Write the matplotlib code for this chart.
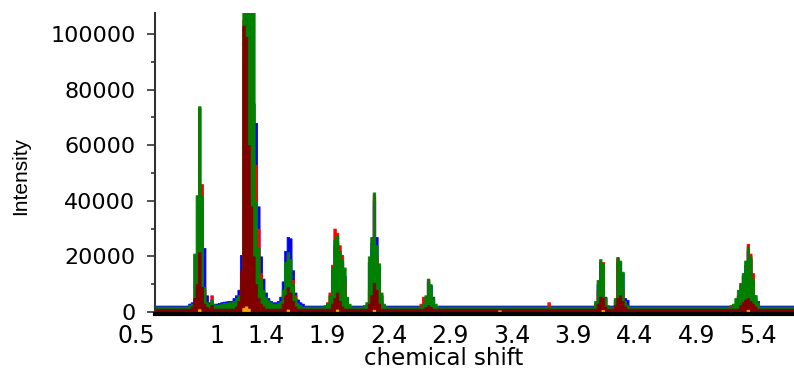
#!/usr/bin/env python3

import numpy as np
import matplotlib
matplotlib.use("Agg")
import matplotlib.pyplot as plt
from matplotlib.ticker import MultipleLocator

# bucketed 1H NMR spectra, 0.02 ppm buckets
ppm = np.round(np.arange(0.5, 5.72, 0.02), 2)

# baseline level of each spectrum, then buckets that rise above it
blue_base = 2300
blue_peaks = {
    0.78: 3000, 0.80: 3500, 0.82: 4500, 0.84: 6000, 0.86: 8000, 0.88: 12000,
    0.90: 23000, 0.92: 6000, 0.94: 3500, 0.96: 3500, 0.98: 3000, 1.00: 3000,
    1.02: 3200, 1.04: 3500, 1.06: 3700, 1.08: 3800, 1.10: 4000, 1.12: 4000,
    1.14: 5000, 1.16: 6000, 1.18: 8000, 1.20: 20500, 1.22: 90000, 1.24: 95000,
    1.26: 95000, 1.28: 85000, 1.30: 75000, 1.32: 68000, 1.34: 38000, 1.36: 20000,
    1.38: 12000, 1.40: 7000, 1.42: 5000, 1.44: 4000, 1.46: 3500, 1.48: 3500,
    1.50: 4000, 1.52: 5500, 1.54: 11000, 1.56: 22000, 1.58: 27000, 1.60: 26500,
    1.62: 15000, 1.64: 7000, 1.66: 4500, 1.68: 3500, 1.70: 3000,
    1.94: 14000, 1.96: 24000, 1.98: 25000, 2.00: 21000, 2.02: 18000, 2.04: 13000,
    2.06: 5000, 2.24: 18000, 2.26: 25000, 2.28: 40000, 2.30: 27000, 2.32: 16000,
    2.34: 6000, 2.70: 5000, 2.72: 11000, 2.74: 9500, 2.76: 5500,
    4.10: 10000, 4.12: 18000, 4.14: 17000, 4.16: 5500, 4.24: 4500, 4.26: 18000,
    4.28: 18000, 4.30: 14000, 4.32: 5000, 4.34: 4300,
    5.24: 6000, 5.26: 8000, 5.28: 13000, 5.30: 17000, 5.32: 22000, 5.34: 19000,
    5.36: 11000, 5.38: 6000, 5.40: 4000,
}

red_base = 1500
red_peaks = {
    0.84: 8000, 0.86: 73500, 0.88: 46000, 0.90: 8000, 0.92: 3000, 0.96: 6000,
    1.18: 6000, 1.20: 10000, 1.22: 105000, 1.24: 100000, 1.26: 80000,
    1.28: 60000, 1.30: 55000, 1.32: 53000, 1.34: 30000, 1.36: 14000,
    1.38: 7000, 1.40: 4000, 1.42: 3000,
    1.54: 6000, 1.56: 9000, 1.58: 20500, 1.60: 12000, 1.62: 11500, 1.64: 6000,
    1.66: 3000,
    1.90: 3500, 1.92: 7000, 1.94: 17000, 1.96: 30000, 1.98: 28500, 2.00: 24000,
    2.02: 20500, 2.04: 12000, 2.06: 4000,
    2.24: 8000, 2.26: 15000, 2.28: 42000, 2.30: 20000, 2.32: 10000, 2.34: 4000,
    2.66: 3000, 2.68: 5500, 2.70: 5000, 2.72: 11800, 2.74: 6000,
    3.70: 3500,
    4.08: 3000, 4.10: 8000, 4.12: 12000, 4.14: 18000, 4.16: 5000, 4.24: 4000,
    4.26: 19800, 4.28: 12000, 4.30: 8000,
    5.18: 2500, 5.24: 6000, 5.26: 10500, 5.28: 9000, 5.30: 14000, 5.32: 24500,
    5.34: 21000, 5.36: 14000, 5.38: 5000,
}

green_base = 1950
green_peaks = {
    0.78: 2500, 0.80: 3000, 0.82: 21000, 0.84: 42000, 0.86: 74000, 0.88: 42000,
    0.90: 9000, 0.92: 3500, 0.94: 3000, 0.96: 4500, 0.98: 2800, 1.00: 2500,
    1.02: 2700, 1.04: 3000, 1.06: 3200, 1.08: 3300, 1.10: 3500, 1.12: 3500,
    1.14: 4000, 1.16: 5000, 1.18: 6000, 1.20: 10000, 1.22: 112000,
    1.24: 112000, 1.26: 112000, 1.28: 112000, 1.30: 112000, 1.32: 40000,
    1.34: 23000, 1.36: 12000, 1.38: 8000, 1.40: 5500, 1.42: 4200, 1.44: 3500,
    1.46: 3000, 1.48: 3000, 1.50: 3300, 1.52: 4000, 1.54: 8000, 1.56: 18000,
    1.58: 21500, 1.60: 19000, 1.62: 10000, 1.64: 5000, 1.66: 3200, 1.68: 2600,
    1.88: 2500, 1.90: 3200, 1.92: 6000, 1.94: 16000, 1.96: 26000, 1.98: 27500,
    2.00: 22000, 2.02: 19000, 2.04: 16000, 2.06: 5500, 2.08: 3000,
    2.20: 2500, 2.22: 3500, 2.24: 20000, 2.26: 27000, 2.28: 43000, 2.30: 24000,
    2.32: 17500, 2.34: 7000, 2.36: 3000,
    2.68: 3000, 2.70: 6000, 2.72: 12000, 2.74: 10000, 2.76: 5000, 2.78: 3000,
    4.08: 4000, 4.10: 11500, 4.12: 19000, 4.14: 17600, 4.16: 5000, 4.18: 2500,
    4.24: 5000, 4.26: 19400, 4.28: 18500, 4.30: 14500, 4.32: 4000, 4.34: 2500,
    5.20: 3000, 5.22: 5000, 5.24: 8000, 5.26: 10000, 5.28: 14000, 5.30: 18500,
    5.32: 23500, 5.34: 20000, 5.36: 12000, 5.38: 6000, 5.40: 3500,
}

darkred_base = 1200
darkred_peaks = {
    0.80: 2000, 0.82: 5000, 0.84: 10000, 0.86: 21500, 0.88: 9000, 0.90: 3000,
    0.92: 1800, 0.96: 2500,
    1.16: 2000, 1.18: 4000, 1.20: 15000, 1.22: 103000, 1.24: 99000,
    1.26: 60000, 1.28: 38000, 1.30: 20000, 1.32: 10000, 1.34: 5000, 1.36: 3000,
    1.38: 2000,
    1.54: 3000, 1.56: 6000, 1.58: 9000, 1.60: 7000, 1.62: 4000, 1.64: 2000,
    1.94: 3000, 1.96: 5000, 1.98: 7000, 2.00: 4000, 2.02: 2000,
    2.24: 3000, 2.26: 6000, 2.28: 10500, 2.30: 8000, 2.32: 3000,
    2.70: 1800, 2.72: 2500, 2.74: 1800,
    4.10: 3000, 4.12: 5500, 4.14: 5000, 4.16: 2000, 4.24: 2500, 4.26: 5000,
    4.28: 6000, 4.30: 4000, 4.32: 2000,
    5.26: 2500, 5.28: 3500, 5.30: 4500, 5.32: 5000, 5.34: 4000, 5.36: 3000,
    5.38: 2000,
}

orange_base = 0
orange_peaks = {
    0.86: 1000, 1.22: 1500, 1.24: 2000, 1.26: 1200, 1.58: 900, 1.98: 900,
    2.28: 800, 3.30: 600, 4.14: 700, 5.32: 800,
}

xtick_values = [0.5, 1.0, 1.4, 1.9, 2.4, 2.9, 3.4, 3.9, 4.4, 4.9, 5.4]
xtick_labels = ["0.5", "1", "1.4", "1.9", "2.4", "2.9", "3.4", "3.9", "4.4", "4.9", "5.4"]


def spectrum(base, peaks):
    y = np.full(len(ppm), float(base))
    for p, v in peaks.items():
        y[np.argmin(np.abs(ppm - p))] = v
    return y


plt.rcParams['font.family'] = 'DejaVu Sans'

fig = plt.figure(figsize=(7.94, 3.74), dpi=100)
ax = fig.add_axes([155/794, 60/374, 639/794, 301/374])

ymin = -720
layers = [
    (blue_base, blue_peaks, '#0000ff'),
    (red_base, red_peaks, '#ff0000'),
    (green_base, green_peaks, '#008000'),
    (darkred_base, darkred_peaks, '#800000'),
    (orange_base, orange_peaks, '#ffa500'),
]
for base, peaks, col in layers:
    ax.fill_between(ppm, spectrum(base, peaks), ymin, step='mid',
                    color=col, linewidth=0.6, edgecolor=col)

ax.set_xlim(0.5, 5.695)
ax.set_ylim(ymin, 107550)

ax.set_xticks(xtick_values)
ax.set_xticklabels(xtick_labels)
ax.get_xticklabels()[0].set_horizontalalignment('right')
ax.yaxis.set_minor_locator(MultipleLocator(10000))
ax.set_yticks(range(0, 100001, 20000))
ax.set_yticklabels([str(v) for v in range(0, 100001, 20000)])

ax.tick_params(axis='x', length=0, pad=7, labelsize=17)
ax.tick_params(axis='y', which='major', direction='out', length=6, width=1.2,
               pad=8, labelsize=16, color='#333333')
ax.tick_params(axis='y', which='minor', direction='out', length=3, width=1.2,
               color='#333333')

for s in ['top', 'right']:
    ax.spines[s].set_visible(False)
ax.spines['left'].set_color('#333333')
ax.spines['left'].set_linewidth(1.5)
ax.spines['bottom'].set_color('black')
ax.spines['bottom'].set_linewidth(3)

ax.set_xlabel("chemical shift", fontsize=16.5)
ax.xaxis.set_label_coords(0.452, -0.11)
ax.set_ylabel("Intensity", fontsize=15, family='Liberation Sans', va='center')
ax.yaxis.set_label_coords(-0.211, 0.458)

fig.savefig("out.png", dpi=100)
